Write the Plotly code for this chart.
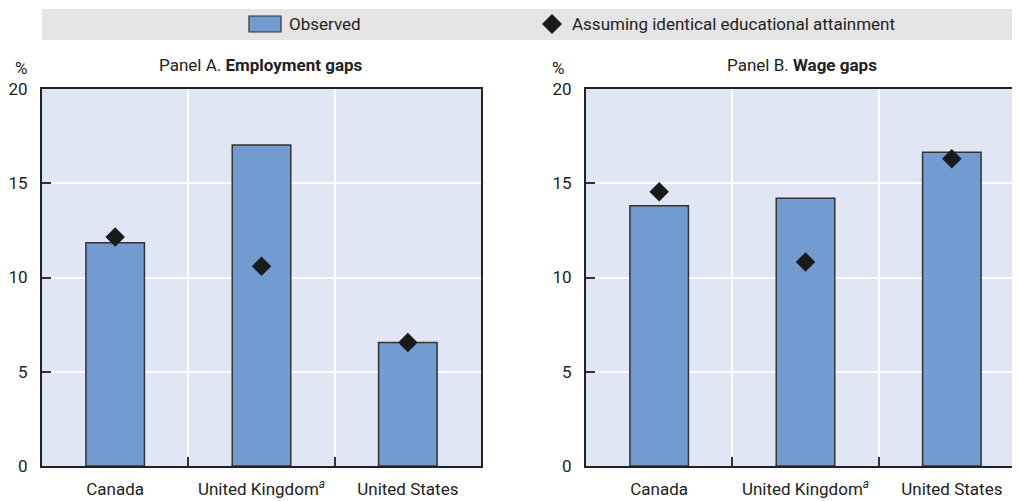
import plotly.graph_objects as go

countries = ["Canada", "United Kingdom<sup><i>a</i></sup>", "United States"]
emp_observed = [11.85, 17.03, 6.55]
emp_identical = [12.15, 10.6, 6.55]
wage_observed = [13.8, 14.2, 16.65]
wage_identical = [14.55, 10.82, 16.3]
yticks = [0, 5, 10, 15, 20]

FONT = "Roboto, Liberation Sans, sans-serif"
TXT = "#222222"
BAR = "#729BD0"
EDGE = "#333333"
PLOTBG = "#E0E6F3"

OX, OY = 8, 8  # page body offset
W, H = 1020 - OX, 501 - OY


def px(x):
    return (x - OX) / W


def py(y):
    return 1 - (y - OY) / H


fig = go.Figure()

for i, (obs, ide) in enumerate([(emp_observed, emp_identical), (wage_observed, wage_identical)]):
    xa = "x" if i == 0 else "x2"
    ya = "y" if i == 0 else "y2"
    fig.add_trace(go.Bar(x=countries, y=obs, width=0.4, marker=dict(color=BAR, line=dict(color=EDGE, width=1.5)),
                         name="Observed", showlegend=False, xaxis=xa, yaxis=ya))
    fig.add_trace(go.Scatter(x=countries, y=ide, mode="markers",
                             marker=dict(symbol="diamond", size=15, color="#1a1a1a"),
                             name="Assuming identical educational attainment", showlegend=False, xaxis=xa, yaxis=ya))

ydom = [py(466), py(89)]
common_x = dict(type="category", tickson="boundaries", ticks="inside", ticklen=9, tickwidth=1.5, tickcolor=EDGE,
                showgrid=True, gridcolor="white", gridwidth=1.5, showline=True, linecolor="#222222", linewidth=2,
                mirror=True, automargin=False, ticklabelstandoff=7,
                tickfont=dict(family=FONT, size=17, color=TXT), fixedrange=True)
common_y = dict(range=[0, 20], tickvals=yticks, ticks="inside", ticklen=9, tickwidth=1.5, tickcolor=EDGE,
                showgrid=True, gridcolor="white", gridwidth=1.5, showline=True, linecolor="#222222", linewidth=2,
                zeroline=False, automargin=False, ticklabelstandoff=9,
                tickfont=dict(family=FONT, size=17, color=TXT), domain=ydom, fixedrange=True)

# panel B is cut by the right edge of the picture (full panel would span 586..1025)
catw = (1025 - 586) / 3.0
xb_end = -0.5 + (1020 - 586) / catw

fig.update_layout(
    width=W, height=H, margin=dict(l=0, r=0, t=0, b=0, autoexpand=False),
    paper_bgcolor="white", plot_bgcolor=PLOTBG,
    xaxis=dict(common_x, domain=[px(42), px(481)], range=[-0.5, 2.5], anchor="y"),
    yaxis=dict(common_y, mirror=True, anchor="x"),
    xaxis2=dict(common_x, domain=[px(586), 1.0], range=[-0.5, xb_end], anchor="y2"),
    yaxis2=dict(common_y, mirror=False, anchor="x2"),
    showlegend=False,
)

shapes = [
    dict(type="rect", xref="paper", yref="paper", x0=px(42), x1=1.0, y0=py(40), y1=py(9),
         fillcolor="#E5E5E5", line=dict(width=0), layer="below"),
    dict(type="rect", xref="paper", yref="paper", x0=px(249), x1=px(281), y0=py(32), y1=py(16),
         fillcolor=BAR, line=dict(color=EDGE, width=1.2)),
    dict(type="path", xref="paper", yref="paper",
         path="M {a},{m} L {b},{t} L {c},{m} L {b},{bt} Z".format(
             a=px(542), b=px(552), c=px(562), m=py(24), t=py(14), bt=py(34)),
         fillcolor="#1a1a1a", line=dict(width=0)),
]
fig.update_layout(shapes=shapes)

ann = [
    dict(text="Observed", x=px(287), y=py(24), xanchor="left", yanchor="middle"),
    dict(text="Assuming identical educational attainment", x=px(570), y=py(24), xanchor="left", yanchor="middle"),
    dict(text="Panel A. <b>Employment gaps</b>", x=px(261), y=py(65), xanchor="center", yanchor="middle"),
    dict(text="Panel B. <b>Wage gaps</b>", x=px(802), y=py(65), xanchor="center", yanchor="middle"),
    dict(text="%", x=px(21), y=py(68), xanchor="center", yanchor="middle"),
    dict(text="%", x=px(558), y=py(68), xanchor="center", yanchor="middle"),
]
for a in ann:
    a.update(xref="paper", yref="paper", showarrow=False, font=dict(family=FONT, size=17, color=TXT))
fig.update_layout(annotations=ann)

fig.write_html("out.html")
